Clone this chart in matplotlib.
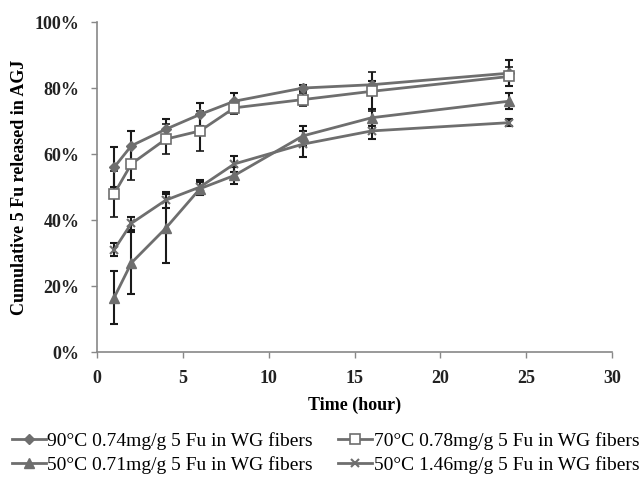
import matplotlib.pyplot as plt
from matplotlib.ticker import PercentFormatter

plt.rcParams['font.family'] = ['Liberation Serif', 'DejaVu Serif']

hours = [1, 2, 4, 6, 8, 12, 16, 24]

rel_90_074 = [56, 62.5, 67.5, 72, 76, 80, 81, 84.5]
err_90_074 = [6, 4.5, 3, 3.5, 2.5, 1, 1, 4]

rel_70_078 = [48, 57, 64.5, 67, 74, 76.5, 79, 83.5]
err_70_078 = [7, 5, 4.5, 6, 2, 2, 6, 3]

rel_50_071 = [16.5, 27, 37.5, 49.5, 53.5, 65.5, 71, 76]
err_50_071 = [8, 9.5, 10.5, 2, 2.5, 3, 2.5, 2.5]

rel_50_146 = [31, 39, 46, 50, 57, 63, 67, 69.5]
err_50_146 = [2, 2, 2.5, 2, 2.5, 4, 2.5, 1]

labels = [
    "90°C 0.74mg/g 5 Fu in WG fibers",
    "70°C 0.78mg/g 5 Fu in WG fibers",
    "50°C 0.71mg/g 5 Fu in WG fibers",
    "50°C 1.46mg/g 5 Fu in WG fibers",
]

line_col = "#6e6e6e"
err_col = "#1a1a1a"

fig = plt.figure(figsize=(6.4, 4.82), dpi=100)
ax = fig.add_axes([0.1516, 0.2697, 0.8047, 0.6846])

series = [
    (rel_90_074, err_90_074, dict(marker="D", markersize=5, mfc=line_col, mec=line_col)),
    (rel_70_078, err_70_078, dict(marker="s", markersize=7, mfc="white", mec=line_col, mew=1.2)),
    (rel_50_071, err_50_071, dict(marker="^", markersize=7, mfc=line_col, mec=line_col)),
    (rel_50_146, err_50_146, dict(marker="x", markersize=6, mec=line_col, mew=1.5)),
]

handles = []
for (vals, errs, style), lab in zip(series, labels):
    cont = ax.errorbar(hours, vals, yerr=errs, color=line_col, lw=2,
                       ecolor=err_col, elinewidth=1.5, capsize=3, capthick=1.5,
                       **style)
    handles.append(cont[0])

ax.set_xlim(0, 30)
ax.set_ylim(0, 100)
ax.set_xticks([0, 5, 10, 15, 20, 25, 30])
ax.set_yticks([0, 20, 40, 60, 80, 100])
ax.yaxis.set_major_formatter(PercentFormatter(decimals=0))

for side in ["top", "right"]:
    ax.spines[side].set_visible(False)
for side in ["left", "bottom"]:
    ax.spines[side].set_color("#888888")
    ax.spines[side].set_linewidth(1.2)
ax.tick_params(colors="#888888", labelcolor="#222222", length=4, width=1)
ax.tick_params(axis="x", pad=9)
ax.tick_params(axis="y", pad=8.5)

for t in ax.get_xticklabels() + ax.get_yticklabels():
    t.set_fontweight("bold")
    t.set_fontsize(13)

ax.set_xlabel("Time (hour)", fontsize=13, fontweight="bold", labelpad=7)
ax.set_ylabel("Cumulative 5 Fu released in AGJ", fontsize=13, fontweight="bold", labelpad=5)

# matplotlib fills legend columns first, so reorder to read row by row
order = [0, 2, 1, 3]
fig.legend([handles[i] for i in order], [labels[i] for i in order],
           loc="center", bbox_to_anchor=(0.509, 0.060), ncol=2, frameon=False,
           fontsize=14, handlelength=1.75, handletextpad=0.1, columnspacing=1.3,
           labelspacing=0.3)

plt.savefig("out.png", dpi=100)
